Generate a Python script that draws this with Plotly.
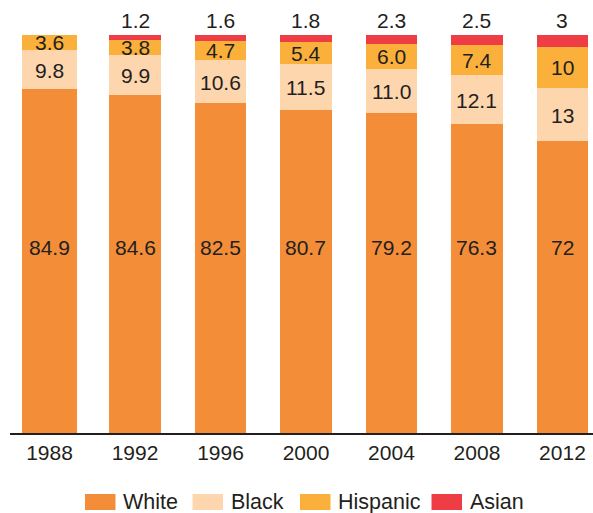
import plotly.graph_objects as go

# Share of voters by race/ethnicity, presidential elections
years = ["1988", "1992", "1996", "2000", "2004", "2008", "2012"]
white = [84.9, 84.6, 82.5, 80.7, 79.2, 76.3, 72]
black = [9.8, 9.9, 10.6, 11.5, 11.0, 12.1, 13]
hispanic = [3.6, 3.8, 4.7, 5.4, 6.0, 7.4, 10]
asian = [0, 1.2, 1.6, 1.8, 2.3, 2.5, 3]

white_labels = ["84.9", "84.6", "82.5", "80.7", "79.2", "76.3", "72"]
black_labels = ["9.8", "9.9", "10.6", "11.5", "11.0", "12.1", "13"]
hispanic_labels = ["3.6", "3.8", "4.7", "5.4", "6.0", "7.4", "10"]
asian_labels = ["", "1.2", "1.6", "1.8", "2.3", "2.5", "3"]

colors = {"White": "#F48D37", "Black": "#FDD6AE", "Hispanic": "#FBB03B", "Asian": "#EE3D44"}

TEXT = "#231F20"
FONT = "Liberation Sans, Arial, sans-serif"
FS = 21

W, H = 593, 513
ML, MR, MT, MB = 10, 0, 35, 80
PW, PH = W - ML - MR, H - MT - MB

widths = [0.64, 0.6, 0.6, 0.6, 0.6, 0.6, 0.6]
xs = list(range(len(years)))

fig = go.Figure()
for name, vals in [("White", white), ("Black", black),
                   ("Hispanic", hispanic), ("Asian", asian)]:
    fig.add_trace(go.Bar(name=name, x=xs, y=vals, width=widths,
                         marker=dict(color=colors[name], line=dict(width=0)),
                         hoverinfo="skip"))


def label(x, y, text, **kw):
    fig.add_annotation(x=x, y=y, xref="x", yref="y", text=text,
                       showarrow=False, xanchor="center", borderpad=0,
                       font=dict(family=FONT, size=FS, color=TEXT), **kw)


# Segment labels, placed at the middle of each normalised segment
for i in xs:
    total = white[i] + black[i] + hispanic[i] + asian[i]
    w = white[i] / total * 100
    b = black[i] / total * 100
    h = hispanic[i] / total * 100
    label(i, 46.7, white_labels[i], yanchor="middle")
    label(i, w + b / 2, black_labels[i], yanchor="middle", yshift=-1)
    label(i, w + b + h / 2, hispanic_labels[i], yanchor="middle")
    if asian_labels[i]:
        label(i, 100, asian_labels[i], yanchor="bottom", yshift=2)


def px_x(px):
    return (px - ML) / PW


def px_y(py):
    return (H - MB - py) / PH


# Legend row drawn as swatches + labels
legend_items = [("White", 85, 122), ("Black", 192.5, 229.6),
                ("Hispanic", 300, 336.6), ("Asian", 431.5, 469)]
for name, sx, tx in legend_items:
    fig.add_shape(type="rect", xref="paper", yref="paper",
                  x0=px_x(sx), x1=px_x(sx + 30.5),
                  y0=px_y(510), y1=px_y(494),
                  fillcolor=colors[name], line=dict(width=0))
    fig.add_annotation(x=px_x(tx), y=px_y(501.5), xref="paper", yref="paper",
                       text=name, showarrow=False, xanchor="left",
                       yanchor="middle", borderpad=0,
                       font=dict(family=FONT, size=21.5, color=TEXT))

fig.update_layout(
    barmode="stack",
    barnorm="percent",
    width=W, height=H,
    margin=dict(l=ML, r=MR, t=MT, b=MB, pad=0),
    paper_bgcolor="white",
    plot_bgcolor="white",
    showlegend=False,
    font=dict(family=FONT, size=FS, color=TEXT),
)

fig.update_xaxes(
    range=[-0.462, 6.357],
    tickmode="array", tickvals=xs, ticktext=years,
    showline=True, linecolor=TEXT, linewidth=2,
    showgrid=False, zeroline=False, ticks="",
    tickfont=dict(family=FONT, size=FS, color=TEXT),
)
fig.update_yaxes(range=[0, 100], visible=False, showgrid=False, zeroline=False)

fig.write_html("out.html")
